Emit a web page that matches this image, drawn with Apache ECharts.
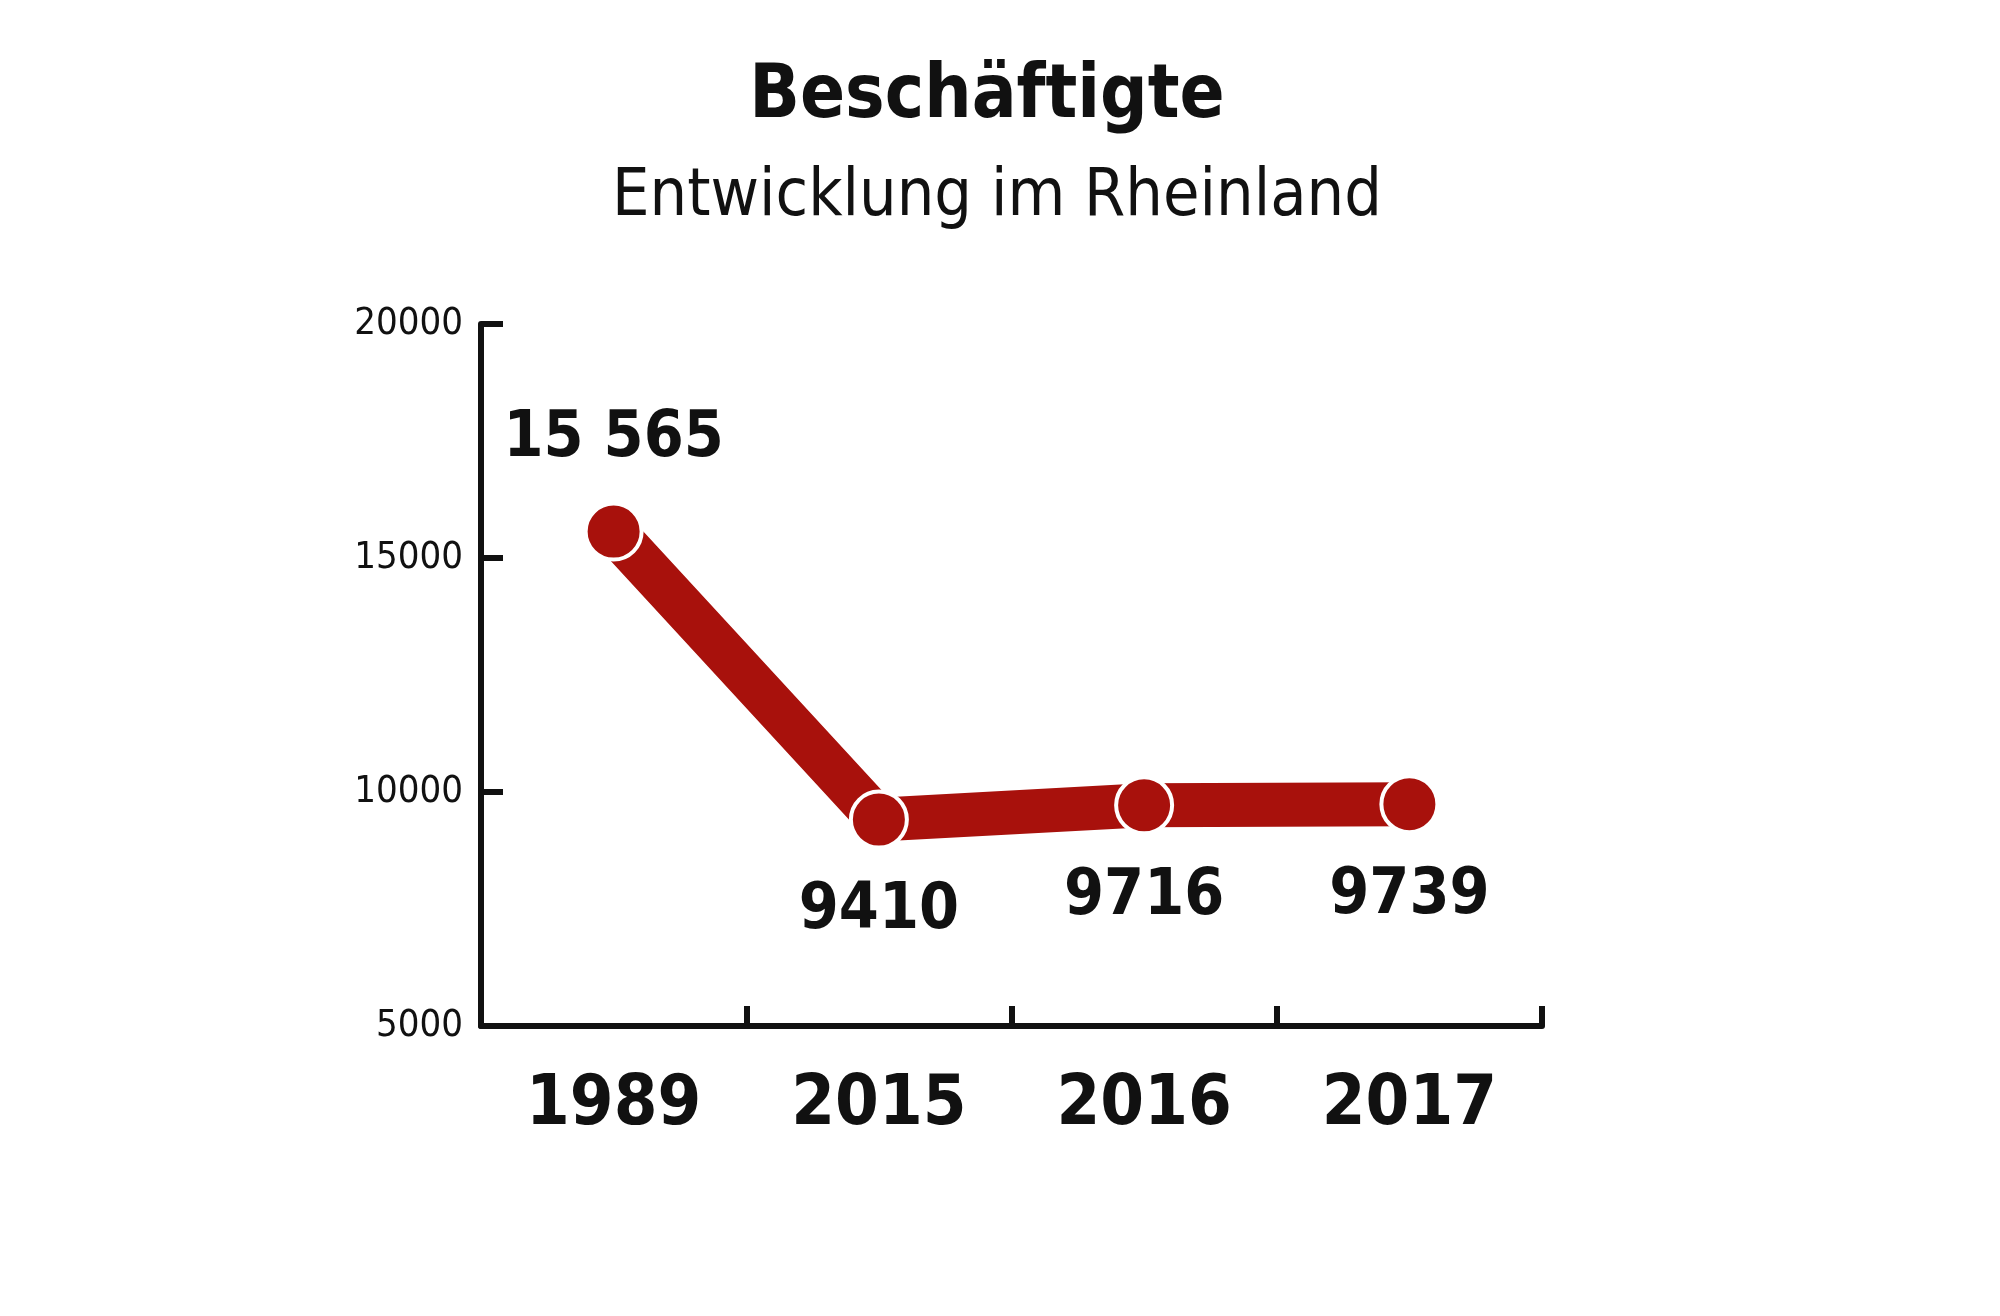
<!DOCTYPE html><html><head><meta charset="utf-8"><script src="https://cdn.jsdelivr.net/npm/echarts@6/dist/echarts.min.js"></script>
<style>body{margin:0;background:#fff}#c{width:2000px;height:1316px}</style></head><body><div id="c"></div><script>
const categories=['1989','2015','2016','2017'];
const values=[15565,9410,9716,9739];
const valueLabels=['15 565','9410','9716','9739'];
const F='"DejaVu Sans Condensed","Liberation Sans Narrow",sans-serif';
const c=echarts.init(document.getElementById('c'));
c.setOption({
 animation:false,
 title:[{text:'Beschäftigte',left:982,top:56,textAlign:'center',textStyle:{fontFamily:F,fontSize:74,fontWeight:'bold',color:'#111'}},
        {text:'Entwicklung im Rheinland',left:992,top:160,textAlign:'center',textStyle:{fontFamily:F,fontSize:66,fontWeight:'normal',color:'#111'}}],
 grid:{left:481,top:324,width:1061,height:702},
 xAxis:{type:'category',data:categories,boundaryGap:true,
   axisLine:{show:true,lineStyle:{color:'#111',width:6}},
   axisTick:{show:true,inside:true,length:20,lineStyle:{color:'#111',width:6}},
   axisLabel:{fontFamily:F,fontWeight:'bold',fontSize:70,color:'#111',margin:45}},
 yAxis:{type:'value',min:5000,max:20000,interval:5000,
   axisLine:{show:true,lineStyle:{color:'#111',width:6}},
   axisTick:{show:true,inside:true,length:22,lineStyle:{color:'#111',width:6}},
   splitLine:{show:false},
   axisLabel:{fontFamily:F,fontSize:38,color:'#111',margin:18,formatter:v=>String(v)}},
 series:[{type:'line',data:values.map((v,i)=>({value:v,label:{position:i===0?'top':'bottom'}})),
   lineStyle:{color:'#a8110c',width:44},itemStyle:{color:'#a8110c',borderColor:'#fff',borderWidth:4},
   symbol:'circle',symbolSize:56,
   label:{show:true,distance:30,fontFamily:F,fontWeight:'bold',fontSize:64,color:'#111',
     formatter:p=>valueLabels[p.dataIndex]}}]
});
</script></body></html>
